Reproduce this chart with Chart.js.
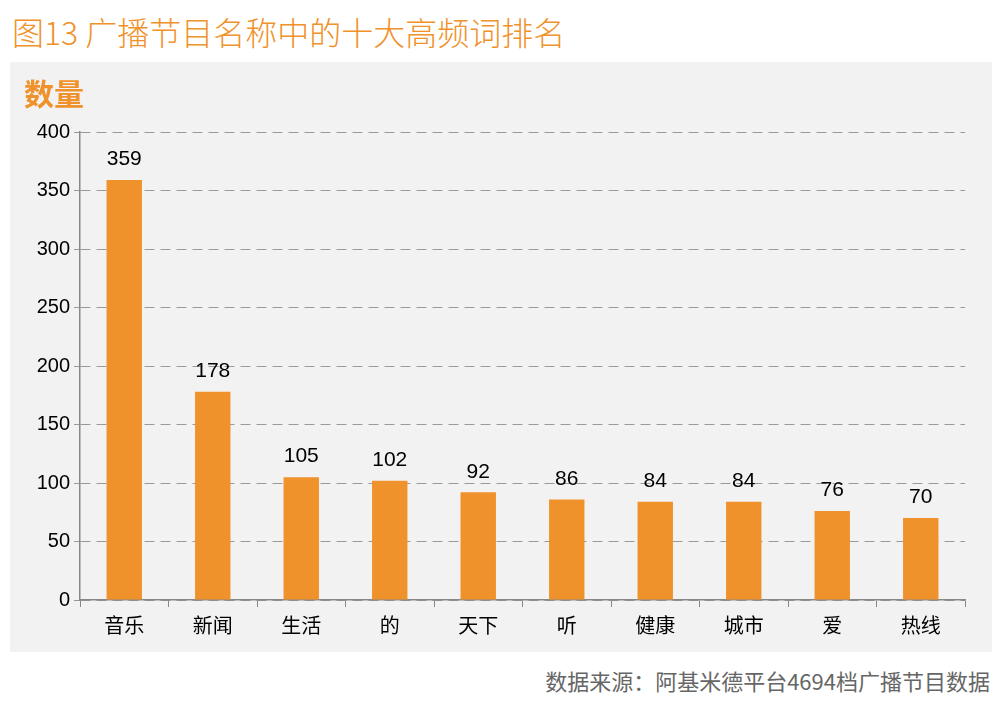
<!DOCTYPE html>
<html lang="zh">
<head>
<meta charset="UTF-8">
<title>图13</title>
<style>
    body { margin: 0; width: 1004px; height: 711px; background: #fff; font-family: "Noto Sans CJK SC", sans-serif; position: relative; overflow: hidden; }
    #title { position: absolute; left: 12px; top: 8px; font-size: 32px; color: #F0922B; font-weight: 300; white-space: nowrap; }
    #panel { position: absolute; left: 10px; top: 62px; width: 982px; height: 590px; background: #F2F2F2; }
    #unit { position: absolute; left: 14px; top: 8px; font-size: 30px; font-weight: bold; color: #F0922B; }
    #source { position: absolute; right: 14px; top: 664px; font-size: 22px; color: #666; white-space: nowrap; }
</style>
<script src="https://cdn.jsdelivr.net/npm/chart.js"></script>
</head>
<body>
<div id="title">图13 广播节目名称中的十大高频词排名</div>
<div id="panel">
    <canvas id="chart" width="982" height="590"></canvas>
    <div id="unit">数量</div>
</div>
<div id="source">数据来源：阿基米德平台4694档广播节目数据</div>
<script>
    const categories = ['音乐', '新闻', '生活', '的', '天下', '听', '健康', '城市', '爱', '热线'];
    const counts = [359, 178, 105, 102, 92, 86, 84, 84, 76, 70];
    const yTicks = [0, 50, 100, 150, 200, 250, 300, 350, 400];

    // 柱顶数值
    const valueLabels = {
        id: 'valueLabels',
        afterDatasetsDraw(chart) {
            const ctx = chart.ctx;
            const meta = chart.getDatasetMeta(0);
            ctx.save();
            ctx.font = '21px "Liberation Sans", Arial, sans-serif';
            ctx.fillStyle = '#000';
            ctx.textAlign = 'center';
            ctx.textBaseline = 'bottom';
            meta.data.forEach((bar, i) => {
                ctx.fillText(counts[i], bar.x, bar.y - 10);
            });
            ctx.restore();
        }
    };

    new Chart(document.getElementById('chart'), {
        type: 'bar',
        data: {
            labels: categories,
            datasets: [{
                data: counts,
                backgroundColor: '#F0922B',
                barPercentage: 0.4,
                categoryPercentage: 1
            }]
        },
        options: {
            responsive: false,
            animation: false,
            layout: { padding: { left: 0, top: 70, right: 27, bottom: 0 } },
            plugins: { legend: { display: false }, tooltip: { enabled: false } },
            scales: {
                x: {
                    offset: true,
                    afterFit(s) { s.height = 52; },
                    grid: { offset: true, drawOnChartArea: false, color: '#888', tickLength: 7 },
                    border: { color: '#888', width: 1.5 },
                    ticks: { color: '#000', font: { size: 20, family: '"Noto Sans CJK SC"' }, padding: 6 }
                },
                y: {
                    min: 0, max: 400,
                    afterFit(s) { s.width = 70; },
                    afterBuildTicks(s) { s.ticks = yTicks.map(v => ({ value: v })); },
                    grid: { color: '#999', lineWidth: 1, tickLength: 6 },
                    border: { color: '#888', width: 1.5, dash: [] },
                    ticks: { color: '#000', font: { size: 20, family: '"Liberation Sans"' }, padding: 4 }
                }
            }
        },
        plugins: [valueLabels, {
            id: 'dashGrid',
            beforeDraw(chart) {
                chart.options.scales.y.grid.tickBorderDash = [];
            }
        }]
    });
    // dashed horizontal gridlines
    Chart.getChart('chart').options.scales.y.border.dash = [10, 6];
    Chart.getChart('chart').options.scales.y.grid.color = (c) => '#999';
    Chart.getChart('chart').update();
</script>
</body>
</html>
